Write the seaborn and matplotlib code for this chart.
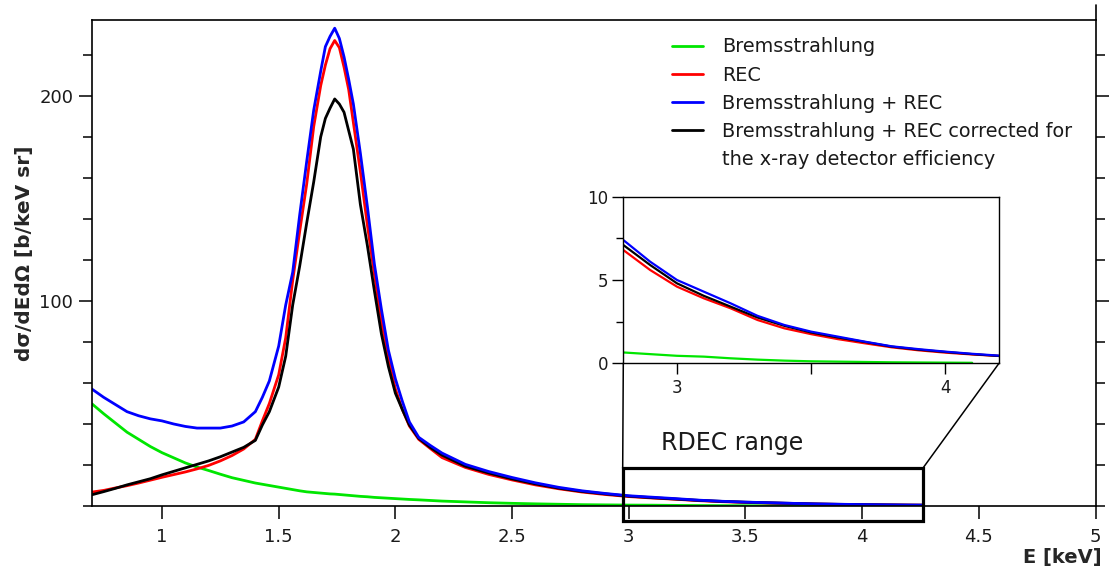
import numpy as np
import pandas as pd
import matplotlib
matplotlib.use("Agg")
import matplotlib.pyplot as plt
import seaborn as sns
from matplotlib.patches import Rectangle, ConnectionPatch
from matplotlib.lines import Line2D
from matplotlib.ticker import MultipleLocator, FixedLocator

# ---------------- data ----------------
energy = [0.70, 0.75, 0.80, 0.85, 0.90, 0.95, 1.00, 1.05, 1.10, 1.15, 1.20, 1.25,
          1.30, 1.35, 1.40, 1.43, 1.46, 1.50, 1.53, 1.56, 1.59, 1.62, 1.65, 1.68,
          1.70, 1.72, 1.74, 1.76, 1.78, 1.80, 1.82, 1.85, 1.88, 1.91, 1.94, 1.97,
          2.00, 2.03, 2.06, 2.10, 2.15, 2.20, 2.30, 2.40, 2.50, 2.60, 2.70, 2.80,
          2.90, 3.00, 3.10, 3.20, 3.30, 3.40, 3.50, 3.60, 3.70, 3.80, 3.90, 4.00,
          4.10, 4.20, 4.26]

brems = [49.8, 45.0, 40.5, 36.0, 32.5, 29.0, 26.0, 23.5, 21.0, 19.0, 17.3, 15.5,
         13.8, 12.5, 11.2, 10.6, 10.0, 9.2, 8.6, 8.0, 7.4, 6.9, 6.6, 6.3,
         6.1, 5.9, 5.8, 5.6, 5.4, 5.2, 5.0, 4.7, 4.5, 4.2, 4.0, 3.8,
         3.6, 3.4, 3.2, 3.0, 2.7, 2.4, 2.0, 1.6, 1.3, 1.05, 0.85, 0.65,
         0.55, 0.45, 0.40, 0.30, 0.22, 0.16, 0.12, 0.10, 0.08, 0.06, 0.05, 0.04,
         0.03]

rec = [6.8, 7.6, 8.8, 9.9, 11.2, 12.6, 14.0, 15.3, 16.6, 18.1, 19.8, 22.0,
       24.6, 27.8, 32.5, 41.5, 50.0, 64.0, 82.0, 110.0, 134.0, 157.0, 185.0, 205.0,
       215.0, 223.0, 227.0, 223.5, 214.0, 203.0, 187.0, 163.0, 137.0, 113.0, 90.0, 72.0,
       57.0, 47.0, 39.0, 32.5, 28.0, 23.6, 18.8, 15.4, 12.7, 10.3, 8.4, 6.8,
       5.6, 4.6, 3.9, 3.3, 2.6, 2.1, 1.75, 1.45, 1.2, 0.96, 0.78, 0.64,
       0.53, 0.44, 0.40]

brems_rec = [57.0, 53.0, 49.5, 46.0, 44.0, 42.5, 41.5, 40.0, 38.8, 38.0, 38.0, 38.0,
             39.0, 41.0, 46.0, 53.0, 61.0, 78.0, 98.0, 114.0, 142.0, 168.0, 193.0, 212.0,
             224.0, 229.0, 233.0, 228.0, 219.0, 208.0, 196.0, 172.0, 146.0, 118.0, 96.0, 76.0,
             62.0, 51.0, 41.0, 33.5, 29.5, 25.8, 20.3, 16.8, 13.9, 11.3, 9.1, 7.4,
             6.1, 5.0, 4.3, 3.6, 2.85, 2.3, 1.9, 1.6, 1.3, 1.02, 0.85, 0.70,
             0.57, 0.46, 0.42]

corrected = [5.5, 7.0, 8.6, 10.3, 11.8, 13.3, 15.2, 16.9, 18.6, 20.3, 22.0, 24.0,
             26.3, 28.6, 32.0, 39.5, 46.0, 58.0, 73.0, 98.0, 117.0, 138.0, 158.0, 180.0,
             189.0, 194.0, 198.5, 196.0, 192.0, 183.0, 174.0, 147.0, 127.0, 105.0, 84.0, 68.0,
             55.0, 47.0, 39.5, 33.0, 28.5, 24.8, 19.4, 16.1, 13.2, 10.8, 8.7, 7.1,
             5.9, 4.8, 4.05, 3.4, 2.75, 2.25, 1.85, 1.55, 1.28, 1.0, 0.82, 0.68,
             0.55, 0.44, 0.40]

labels = ["Bremsstrahlung", "REC", "Bremsstrahlung + REC",
          "Bremsstrahlung + REC corrected for"]
extra_label = "the x-ray detector efficiency"
colors = ["#00e600", "#ff0000", "#0000ff", "#000000"]

xticks_main = [1, 1.5, 2, 2.5, 3, 3.5, 4, 4.5, 5]
xticklabels_main = ["1", "1.5", "2", "2.5", "3", "3.5", "4", "4.5", "5"]
yticks_main = [100, 200]
xticks_inset = [3, 4]
yticks_inset = [0, 5, 10]

# ---------------- style ----------------
sns.set_theme(style="ticks")
plt.rcParams["font.family"] = ["DejaVu Sans"]
plt.rcParams["text.color"] = "#1a1a1a"
plt.rcParams["xtick.color"] = "black"
plt.rcParams["ytick.color"] = "black"
plt.rcParams["xtick.labelcolor"] = "#1a1a1a"
plt.rcParams["ytick.labelcolor"] = "#1a1a1a"

W, H = 1111, 571
fig = plt.figure(figsize=(W / 100, H / 100), dpi=100)
fig.patch.set_facecolor("white")

ax = fig.add_axes([92 / W, 1 - 506 / H, (1095.5 - 92) / W, 486 / H])

frames = []
series = [("Bremsstrahlung", brems), ("REC", rec),
          ("Bremsstrahlung + REC", brems_rec), ("corrected", corrected)]
for name, vals in series:
    frames.append(pd.DataFrame({"E": energy[:len(vals)], "v": vals, "s": name}))
df = pd.concat(frames, ignore_index=True)

draw_order = ["Bremsstrahlung", "REC", "corrected", "Bremsstrahlung + REC"]
col_map = dict(zip(["Bremsstrahlung", "REC", "Bremsstrahlung + REC", "corrected"], colors))

for name in draw_order:
    sub = df[df["s"] == name]
    sns.lineplot(data=sub, x="E", y="v", ax=ax, color=col_map[name], lw=2.0,
                 legend=False, sort=False, estimator=None)

ax.set_xlim(0.7, 5)
ax.set_ylim(0, 237)
ax.set_xticks(xticks_main)
ax.set_xticklabels(xticklabels_main)
ax.set_yticks(yticks_main)
ax.yaxis.set_minor_locator(MultipleLocator(20))
ax.tick_params(axis="x", which="major", direction="out", length=9.5, width=1.1,
               labelsize=13, pad=6, bottom=True, top=False)
ax.tick_params(axis="y", which="major", direction="out", length=9.5, width=1.1,
               labelsize=13, pad=4, left=True, right=True)
ax.tick_params(axis="y", which="minor", direction="out", length=6.5, width=1.1,
               left=True, right=True)
for sp in ax.spines.values():
    sp.set_linewidth(1.2)
    sp.set_color("black")
# right axis line extends above the frame
ax.add_line(Line2D([1, 1], [1, 1.03], transform=ax.transAxes, color="black",
                   lw=1.2, clip_on=False))

ax.set_xlabel("E [keV]", fontsize=14, fontweight="bold", ha="right")
ax.xaxis.set_label_coords(1.0065, -0.086)
ax.set_ylabel("dσ/dEdΩ [b/keV sr]", fontsize=14.5, fontweight="bold")
ax.yaxis.set_label_coords(-0.058, 0.52)

# legend
handles = [Line2D([], [], color=c, lw=2.0) for c in colors]
handles.append(Line2D([], [], color="none"))
leg = ax.legend(handles, labels + [extra_label], loc="upper left",
                bbox_to_anchor=(672 / W, 1 - 37.5 / H), bbox_transform=fig.transFigure,
                frameon=False, fontsize=13.9, handlelength=1.6, handletextpad=1.0,
                labelspacing=0.47, borderpad=0, borderaxespad=0)

# RDEC range box and text
x0, x1 = 2.974, 4.26
y0, y1 = -7.2, 18.4
rect = Rectangle((x0, y0), x1 - x0, y1 - y0, fill=False, edgecolor="black",
                 lw=2.3, clip_on=False, zorder=5)
ax.add_patch(rect)
ax.text(3.14, 30.7, "RDEC range", fontsize=17, va="center", ha="left", color="#1a1a1a")

# ---------------- inset ----------------
axins = fig.add_axes([623.3 / W, 1 - 363.3 / H, (999 - 623.3) / W, (363.3 - 196.7) / H])
axins.set_facecolor("white")
for name in draw_order:
    sub = df[df["s"] == name]
    sns.lineplot(data=sub, x="E", y="v", ax=axins, color=col_map[name], lw=1.6,
                 legend=False, sort=False, estimator=None)
axins.set_xlim(2.8, 4.2)
axins.set_ylim(0, 10)
axins.set_xticks(xticks_inset)
axins.set_xticklabels(["3", "4"])
axins.xaxis.set_minor_locator(FixedLocator([3.5]))
axins.set_yticks(yticks_inset)
axins.set_yticklabels(["0", "5", "10"])
axins.yaxis.set_minor_locator(FixedLocator([2.5, 7.5]))
axins.tick_params(axis="both", which="major", direction="out", length=8, width=1.0,
                  labelsize=12, pad=3)
axins.tick_params(axis="both", which="minor", direction="out", length=8, width=1.0)
axins.tick_params(axis="y", which="minor", length=5)
axins.set_xlabel("")
axins.set_ylabel("")
for sp in axins.spines.values():
    sp.set_linewidth(1.0)
    sp.set_color("black")

# connection lines from inset to box
for xa, xb in [(2.8, x0), (4.2, x1)]:
    con = ConnectionPatch(xyA=(xa, 0), coordsA=axins.transData,
                          xyB=(xb, y1), coordsB=ax.transData,
                          color="black", lw=1.1)
    fig.add_artist(con)

fig.savefig("out.png", dpi=100, facecolor="white")
